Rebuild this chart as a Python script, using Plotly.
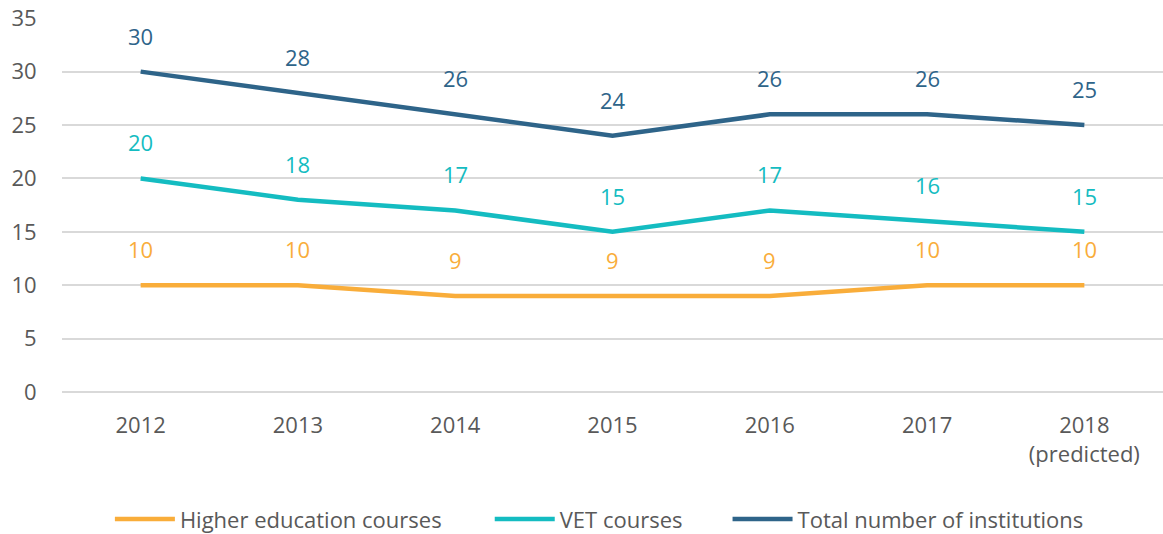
import plotly.graph_objects as go

years = ["2012", "2013", "2014", "2015", "2016", "2017", "2018<br>(predicted)"]
higher_ed = [10, 10, 9, 9, 9, 10, 10]
vet = [20, 18, 17, 15, 17, 16, 15]
total = [30, 28, 26, 24, 26, 26, 25]

series = [
    ("Higher education courses", higher_ed, "#F9AD3A", "legend"),
    ("VET courses", vet, "#14BCC1", "legend2"),
    ("Total number of institutions", total, "#2E6489", "legend3"),
]

font_family = "Open Sans, Noto Sans, sans-serif"
fig = go.Figure()
annotations = []
for name, vals, color, lg in series:
    fig.add_trace(go.Scatter(
        x=list(range(len(years))), y=vals, mode="lines", name=name,
        line=dict(color=color, width=4.5), legend=lg,
    ))
    for i, v in enumerate(vals):
        annotations.append(dict(
            x=i, y=v, text=str(v), showarrow=False, yshift=36,
            xref="x", yref="y", yanchor="middle",
            font=dict(size=22, color=color, family=font_family),
        ))

def leg(xpos):
    return dict(orientation="h", x=xpos, xanchor="left", y=-0.34, yanchor="middle",
                font=dict(size=22, color="#595959"), itemwidth=60,
                bgcolor="rgba(0,0,0,0)")

fig.update_layout(
    width=1163, height=534,
    margin=dict(l=62, r=0, t=18, b=142, autoexpand=False),
    paper_bgcolor="white", plot_bgcolor="white",
    font=dict(family=font_family, size=22, color="#595959"),
    annotations=annotations,
    showlegend=True,
    legend=leg(0.0435),
    legend2=leg(0.3885),
    legend3=leg(0.6045),
    xaxis=dict(
        tickmode="array", tickvals=list(range(len(years))), ticktext=years,
        range=[-0.5, 6.5], showgrid=False, zeroline=False, showline=False,
        ticks="outside", ticklen=14, tickcolor="rgba(0,0,0,0)",
        tickfont=dict(size=22, color="#595959"),
    ),
    yaxis=dict(
        range=[0, 35.02], tickmode="array", tickvals=[0, 5, 10, 15, 20, 25, 30, 35],
        showgrid=True, gridcolor="#D9D9D9", gridwidth=1.5,
        zeroline=True, zerolinecolor="#D9D9D9", zerolinewidth=1.5, showline=False,
        ticks="outside", ticklen=20, tickcolor="rgba(0,0,0,0)",
        tickfont=dict(size=22, color="#595959"),
    ),
)

fig.write_html("out.html", config={"displayModeBar": False},
               post_script="document.body.style.margin='0';")
